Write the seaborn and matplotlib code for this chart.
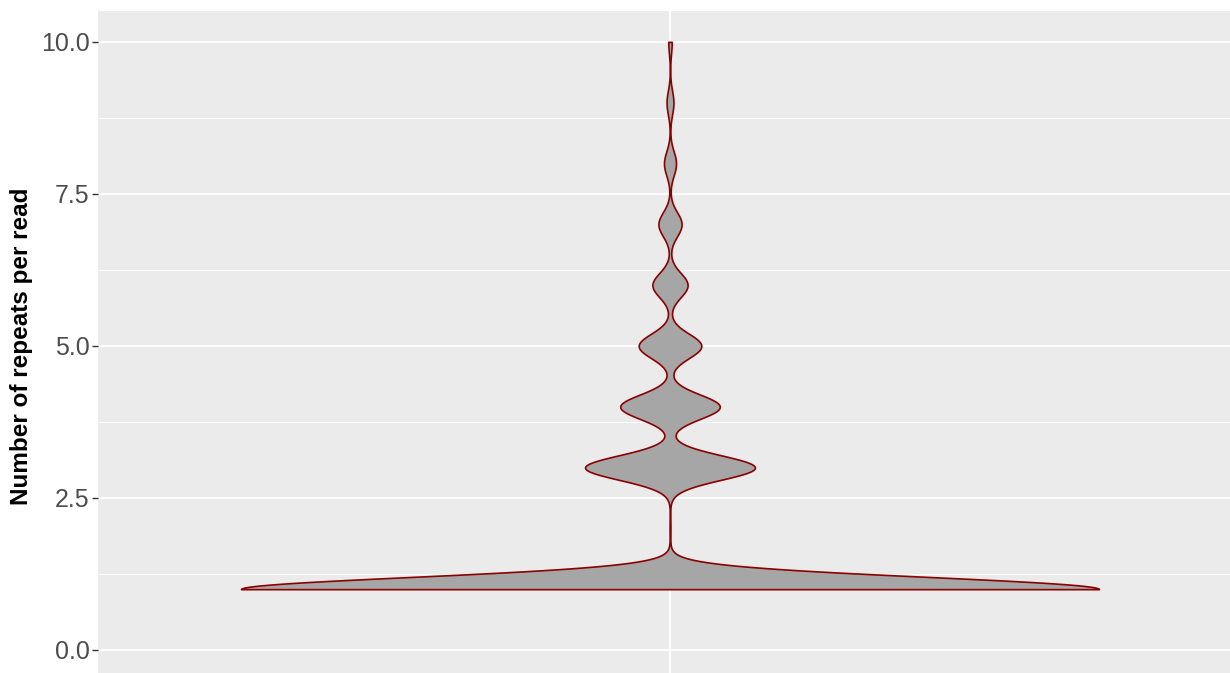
import numpy as np
import matplotlib
matplotlib.use("Agg")
import matplotlib.pyplot as plt
from matplotlib.ticker import MultipleLocator
import seaborn as sns

# repeats per read and how many reads have them
repeats = [1, 2, 3, 4, 5, 6, 7, 8, 9, 10]
n_reads = [1000, 1, 198, 116, 73, 41, 27, 14, 8, 4]

data = np.repeat(repeats, n_reads).astype(float)

sns.set_theme(style="darkgrid")
plt.rcParams['font.family'] = ['Liberation Sans', 'DejaVu Sans']

fig = plt.figure(figsize=(12.3, 6.73), dpi=100)
# panel runs a bit past the right and bottom edges, as in the cropped original
ax = fig.add_axes([98 / 1230, -0.011, 1144 / 1230, 0.994])
ax.set_facecolor('#EBEBEB')

# bandwidth of ~0.2 in data units
bw = 0.2 / np.std(data, ddof=1)
sns.violinplot(y=data, ax=ax, cut=0, bw_method=bw, inner=None,
               color='#A6A6A6', linecolor='#8B0000', linewidth=1.2,
               width=0.9, density_norm='width', gridsize=2000, saturation=1)

ax.set_xlim(-0.6, 0.6)
ax.set_ylim(-0.5, 10.5)
ax.set_xticks([0])
ax.set_xticklabels([])
ax.set_yticks([0, 2.5, 5, 7.5, 10])
ax.set_yticklabels(['0.0', '2.5', '5.0', '7.5', '10.0'])
ax.yaxis.set_minor_locator(MultipleLocator(1.25))
ax.grid(which='major', color='white', linewidth=1.3)
ax.grid(which='minor', axis='y', color='white', linewidth=0.6)
ax.set_axisbelow(True)
for s in ax.spines.values():
    s.set_visible(False)

ax.tick_params(axis='y', which='major', left=True, length=4, width=1,
               color='#333333', labelcolor='#4D4D4D', labelsize=18, pad=2)
ax.tick_params(axis='y', which='minor', left=False, length=0)
ax.tick_params(axis='x', bottom=False, length=0)
ax.set_xlabel('')
ax.set_ylabel('Number of repeats per read', fontsize=17.5, fontweight='bold',
              color='black', labelpad=6)

plt.savefig('out.png', dpi=100)
plt.close()
